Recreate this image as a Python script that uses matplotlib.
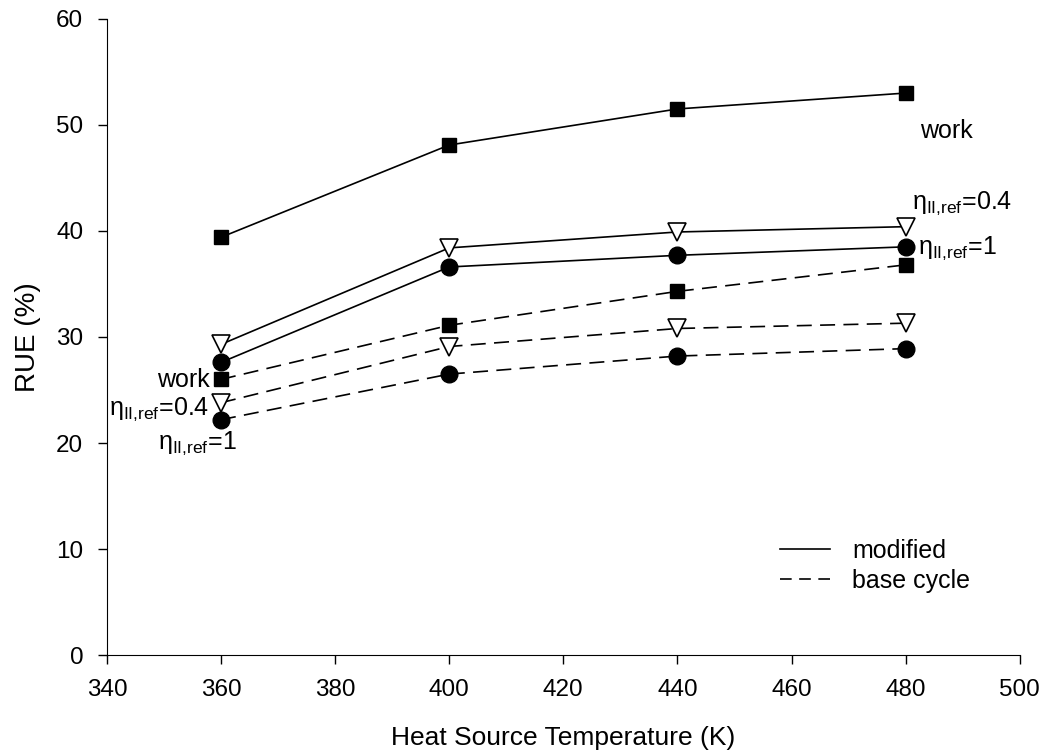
import matplotlib as mpl
mpl.use('agg')
import matplotlib.pyplot as plt
from matplotlib.lines import Line2D

plt.rcParams['font.family'] = ['Liberation Sans', 'DejaVu Sans']
plt.rcParams['mathtext.fontset'] = 'custom'
plt.rcParams['mathtext.rm'] = 'Liberation Sans'
plt.rcParams['mathtext.it'] = 'Liberation Sans'

temps = [360, 400, 440, 480]

# modified cycle
mod_work = [39.4, 48.1, 51.5, 53.0]
mod_eta04 = [29.3, 38.4, 39.9, 40.4]
mod_eta1 = [27.6, 36.6, 37.7, 38.5]

# base cycle
base_work = [26.0, 31.1, 34.3, 36.8]
base_eta04 = [23.8, 29.1, 30.8, 31.3]
base_eta1 = [22.2, 26.5, 28.2, 28.9]

eta04 = r'$\mathregular{\eta_{II{,}ref}}$=0.4'
eta1 = r'$\mathregular{\eta_{II{,}ref}}$=1'

fig = plt.figure(figsize=(10.48, 7.53), dpi=100)
ax = fig.add_axes([0.102, 0.130, 0.871, 0.845])

lw = 1.2
dash = (0, (9, 5))
sq = dict(marker='s', ms=10.5, mfc='k', mec='k')
ci = dict(marker='o', ms=12, mfc='k', mec='k')
tr = dict(marker='v', ms=12.5, mfc='white', mec='k', mew=1.2)

ax.plot(temps, mod_work, color='k', lw=lw, **sq)
ax.plot(temps, mod_eta04, color='k', lw=lw, zorder=3, **tr)
ax.plot(temps, mod_eta1, color='k', lw=lw, **ci)
ax.plot(temps, base_work, color='k', lw=lw, ls=dash, **sq)
ax.plot(temps, base_eta04, color='k', lw=lw, ls=dash, zorder=3, **tr)
ax.plot(temps, base_eta1, color='k', lw=lw, ls=dash, **ci)

fs = 18
ax.text(482.5, 49.4, 'work', fontsize=fs, va='center', ha='left')
ax.text(481.1, 42.6, eta04, fontsize=fs, va='center', ha='left')
ax.text(482.1, 38.4, eta1, fontsize=fs, va='center', ha='left')
ax.text(358.0, 25.9, 'work', fontsize=fs, va='center', ha='right')
ax.text(358.0, 23.2, eta04, fontsize=fs, va='center', ha='right')
ax.text(362.8, 20.0, eta1, fontsize=fs, va='center', ha='right')

handles = [Line2D([], [], color='k', lw=lw),
           Line2D([], [], color='k', lw=lw, ls=(0, (7, 4.5)))]
ax.legend(handles, ['modified', 'base cycle'], loc='upper left',
          bbox_to_anchor=(0.726, 0.198), frameon=False, fontsize=fs,
          handlelength=2.0, handletextpad=0.9, labelspacing=0.22,
          borderaxespad=0)

ax.set_xlim(340, 500)
ax.set_ylim(0, 60)
ax.set_xticks(range(340, 501, 20))
ax.set_yticks(range(0, 61, 10))
ax.spines['top'].set_visible(False)
ax.spines['right'].set_visible(False)
ax.tick_params(direction='out', length=6.5, width=1, labelsize=17.5, pad=10.5)
ax.set_xlabel('Heat Source Temperature (K)', fontsize=19, labelpad=18)
ax.set_ylabel('RUE (%)', fontsize=20, labelpad=11)

fig.savefig('out.png', dpi=100)
